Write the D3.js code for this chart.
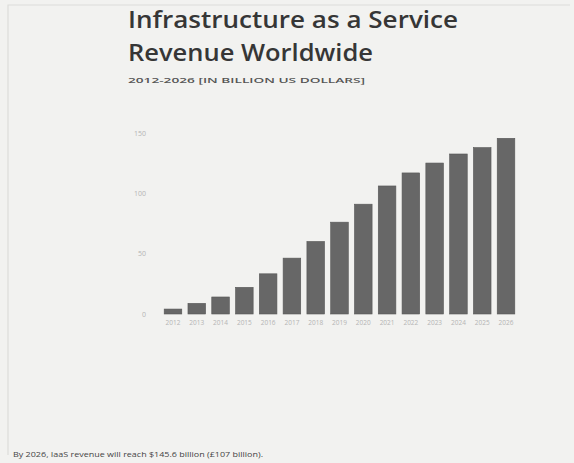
<!DOCTYPE html>
<meta charset="utf-8" />
<script src="https://d3js.org/d3.v7.min.js"></script>
<style>
  body { margin: 0; background: #f2f2f0; }
  text { font-family: "Open Sans", sans-serif; }
</style>
<svg width="574" height="463" id="chart"></svg>
<script>
  // data
  var years = ["2012","2013","2014","2015","2016","2017","2018","2019","2020","2021","2022","2023","2024","2025","2026"];
  var revenue = [4.1, 8.8, 14.1, 22.1, 33.3, 46.3, 60.1, 76.1, 91.0, 106.1, 116.9, 125.1, 132.6, 137.9, 145.6];
  var yTicks = [0, 50, 100, 150];

  var svg = d3.select("#chart");

  // faint frame of the photo
  svg.append("path")
    .attr("d", "M8,455 L8,5 L570,5")
    .attr("fill", "none")
    .attr("stroke", "#dcdcda")
    .attr("stroke-width", 1.2);

  // titles
  svg.append("text").attr("x", 128).attr("y", 28)
    .attr("textLength", 330).attr("lengthAdjust", "spacingAndGlyphs")
    .style("font-size", "24px").style("font-weight", 600).style("fill", "#363636")
    .text("Infrastructure as a Service");
  svg.append("text").attr("x", 128).attr("y", 61)
    .attr("textLength", 245).attr("lengthAdjust", "spacingAndGlyphs")
    .style("font-size", "24px").style("font-weight", 600).style("fill", "#363636")
    .text("Revenue Worldwide");
  svg.append("text").attr("x", 128).attr("y", 83)
    .attr("textLength", 237).attr("lengthAdjust", "spacingAndGlyphs")
    .style("font-size", "7.5px").style("font-weight", 600).style("fill", "#555")
    .text("2012-2026 [IN BILLION US DOLLARS]");

  // scales
  var x = d3.scaleBand().domain(years).range([158, 521]).padding(0.26);
  var y = d3.scaleLinear().domain([0, 150]).range([314, 133]);

  // y axis labels
  svg.append("g")
    .attr("transform", "translate(146,0)")
    .call(d3.axisLeft(y).tickValues(yTicks).tickSize(0).tickPadding(0))
    .call(function(g){ g.select(".domain").remove(); })
    .selectAll("text")
    .style("font-family", "Open Sans, sans-serif")
    .style("font-size", "7px")
    .style("fill", "#b4b4b4");

  // bars
  svg.append("g")
    .selectAll("rect")
    .data(revenue)
    .enter()
    .append("rect")
    .attr("x", function(d, i){ return x(years[i]); })
    .attr("y", function(d){ return y(d); })
    .attr("width", x.bandwidth())
    .attr("height", function(d){ return y(0) - y(d); })
    .style("fill", "#676767")
    .style("stroke", "#575757")
    .style("stroke-width", 0.6);

  // x axis labels
  svg.append("g")
    .attr("transform", "translate(0,317)")
    .call(d3.axisBottom(x).tickSize(0).tickPadding(3))
    .call(function(g){ g.select(".domain").remove(); })
    .selectAll("text")
    .style("font-family", "Open Sans, sans-serif")
    .style("font-size", "6.5px")
    .style("fill", "#b4b4b4");

  // footnote
  svg.append("text").attr("x", 13).attr("y", 457)
    .attr("textLength", 250).attr("lengthAdjust", "spacingAndGlyphs")
    .style("font-size", "7px").style("fill", "#444")
    .text("By 2026, IaaS revenue will reach $145.6 billion (£107 billion).");
</script>
